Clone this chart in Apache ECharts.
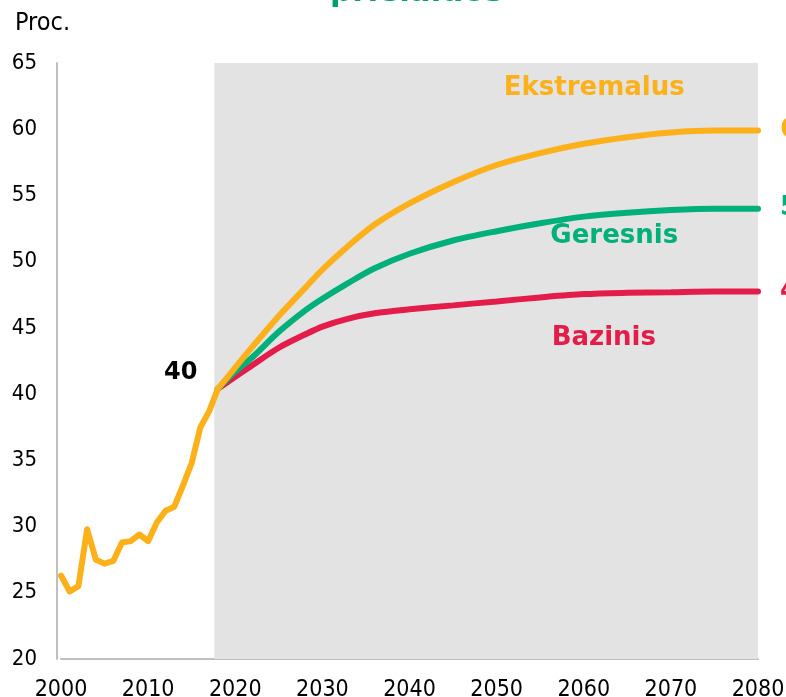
<!DOCTYPE html>
<html>
<head>
<meta charset="utf-8">
<script src="https://cdn.jsdelivr.net/npm/echarts@6/dist/echarts.min.js"></script>
<style>
  html, body {margin: 0; padding: 0; background: #fff;}
  #chart {width: 786px; height: 697px;}
</style>
</head>
<body>
<div id="chart"></div>
<script>
// istoriniai duomenys
let histYears = [2000, 2001, 2002, 2003, 2004, 2005, 2006, 2007, 2008, 2009,
                 2010, 2011, 2012, 2013, 2014, 2015, 2016, 2017, 2018];
let histValues = [26.3, 25.1, 25.5, 29.8, 27.5, 27.2, 27.4, 28.8, 28.9, 29.4,
                  28.9, 30.3, 31.2, 31.5, 33.1, 34.8, 37.5, 38.7, 40.4];

// scenarijai
let scenYears = [2018, 2020, 2022, 2025, 2028, 2030, 2033, 2036, 2040,
                 2045, 2050, 2055, 2060, 2065, 2070, 2075, 2080];
let ekstremalus = [40.4, 42.0, 43.6, 45.9, 48.0, 49.4, 51.2, 52.8, 54.4,
                   56.0, 57.3, 58.2, 58.9, 59.4, 59.75, 59.9, 59.9];
let geresnis = [40.4, 41.7, 42.8, 44.7, 46.3, 47.2, 48.4, 49.5, 50.6,
                51.6, 52.3, 52.9, 53.4, 53.7, 53.9, 54.0, 54.0];
let bazinis = [40.4, 41.3, 42.2, 43.5, 44.5, 45.1, 45.7, 46.1, 46.4,
               46.7, 47.0, 47.3, 47.55, 47.65, 47.7, 47.75, 47.75];

let yTicks = [20, 65, 5];
let xTicks = [2000, 2080, 10];

let ORANGE = '#FCB01A';
let GREEN = '#00B07A';
let RED = '#E31C4A';
let FONT = "'DejaVu Sans Condensed', 'DejaVu Sans', sans-serif";
let BOLD = "'DejaVu Sans', sans-serif";

function pairs(x, y) {
    let temp = [];
    for (let i = 0; i < x.length; i++) {
        temp.push([x[i], y[i]]);
    }
    return temp;
}

function scenario(name, values, color, nameCoord) {
    return {
        name: name,
        type: 'line',
        data: pairs(scenYears, values),
        smooth: 0.3,
        showSymbol: false,
        clip: false,
        lineStyle: {color: color, width: 6, cap: 'round'},
        endLabel: {
            show: true,
            distance: 22,
            formatter: p => Math.round(p.value[1]),
            color: color,
            fontFamily: BOLD,
            fontWeight: 'bold',
            fontSize: 26
        },
        markPoint: {
            symbol: 'circle',
            symbolSize: 0,
            silent: true,
            label: {
                show: true,
                position: 'inside',
                formatter: '{b}',
                color: color,
                fontFamily: BOLD,
                fontWeight: 'bold',
                fontSize: 26
            },
            data: [{name: name, coord: nameCoord}]
        }
    };
}

let myChart = echarts.init(document.getElementById('chart'), null, {renderer: 'canvas'});
myChart.setOption({
    animation: false,
    backgroundColor: '#fff',
    title: [
        {
            text: 'prielaidos',
            left: 325,
            top: -28,
            textStyle: {color: '#00A06E', fontFamily: BOLD, fontWeight: 'bold', fontSize: 31}
        },
        {
            text: 'Proc.',
            left: 10,
            top: 6,
            textStyle: {color: '#000', fontFamily: FONT, fontWeight: 'normal', fontSize: 25}
        }
    ],
    grid: {left: 61, right: 28, top: 63, bottom: 38, outerBoundsMode: 'none', containLabel: false},
    xAxis: {
        type: 'value',
        min: xTicks[0],
        max: xTicks[1],
        interval: xTicks[2],
        axisLine: {show: true, lineStyle: {color: '#BFBFBF', width: 2}},
        axisTick: {show: false},
        splitLine: {show: false},
        axisLabel: {
            color: '#000', fontFamily: FONT, fontSize: 23, margin: 20,
            formatter: v => String(v)
        }
    },
    yAxis: {
        type: 'value',
        min: yTicks[0],
        max: yTicks[1],
        interval: yTicks[2],
        offset: 4,
        axisLine: {show: true, lineStyle: {color: '#BFBFBF', width: 2}},
        axisTick: {show: false},
        splitLine: {show: false},
        axisLabel: {color: '#000', fontFamily: FONT, fontSize: 22, margin: 20}
    },
    series: [
        {
            name: 'Fonas',
            type: 'line',
            data: pairs(histYears, histValues),
            showSymbol: false,
            clip: false,
            z: 1,
            lineStyle: {width: 0},
            markArea: {
                silent: true,
                itemStyle: {color: '#E3E3E3'},
                data: [[{xAxis: 2017.6}, {xAxis: 2080.5}]]
            }
        },
        scenario('Bazinis', bazinis, RED, [2062.3, 44.2]),
        scenario('Geresnis', geresnis, GREEN, [2063.5, 51.9]),
        scenario('Ekstremalus', ekstremalus, ORANGE, [2061.2, 63.1]),
        {
            name: 'Istorija',
            type: 'line',
            data: pairs(histYears, histValues),
            showSymbol: true,
            symbol: 'circle',
            symbolSize: 1,
            itemStyle: {color: ORANGE},
            lineStyle: {color: ORANGE, width: 6, cap: 'round', join: 'round'},
            label: {
                show: true,
                position: 'left',
                distance: 20,
                offset: [0, -16],
                formatter: p => p.dataIndex === histYears.length - 1 ? Math.round(p.value[1]) : '',
                color: '#000',
                fontFamily: BOLD,
                fontWeight: 'bold',
                fontSize: 24
            }
        }
    ]
});
</script>
</body>
</html>
